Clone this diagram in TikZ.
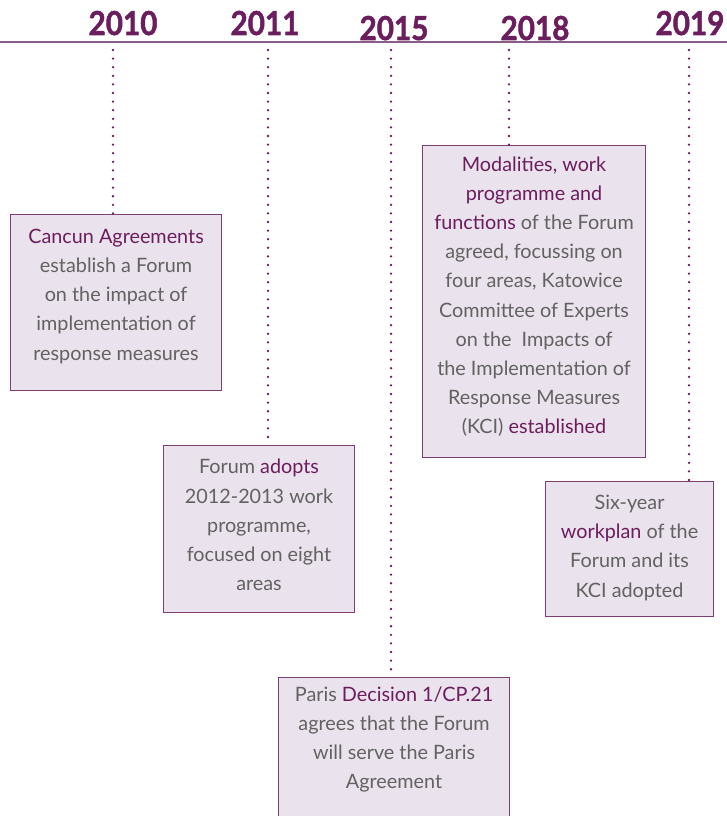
\documentclass[tikz,border=0pt]{standalone}
\usepackage{fontspec}
\setmainfont{Lato}
\newfontfamily\yearfont[BoldFeatures={FakeBold=1.6}]{Lato}
\usepackage{tikz}
\definecolor{tlpurple}{RGB}{107,30,94}
\definecolor{tlline}{RGB}{139,92,136}
\definecolor{tlframe}{RGB}{123,62,118}
\definecolor{tlfill}{RGB}{234,226,236}
\definecolor{tlgray}{RGB}{98,98,98}
\newcommand{\hilite}[1]{\textcolor{tlpurple}{#1}}
\usetikzlibrary{positioning,calc}

\begin{document}
\begin{tikzpicture}[x=1pt,y=-1pt,
        yearnode/.style={text=tlpurple,font=\yearfont\fontsize{33}{33}\selectfont\bfseries,inner sep=0pt,anchor=base},
        eventbox/.style={draw=tlframe,line width=1.1pt,fill=tlfill,anchor=north west,
            text=tlgray,align=center,font=\fontsize{19.8}{29.2}\selectfont,inner sep=0pt},
        dotline/.style={draw=tlpurple,line width=2.6pt,line cap=round,dash pattern=on 0pt off 8.6pt}
        ]
        \useasboundingbox (0,0) rectangle (727,816);

        % the time axis
        \draw[tlline,line width=2pt] (0,42) -- (727,42);

        % the years
        \node[yearnode] (y2010) at (123,35) {\scalebox{0.9}[1]{2010}};
        \node[yearnode] (y2011) at (265,35) {\scalebox{0.9}[1]{2011}};
        \node[yearnode] (y2015) at (394,40) {\scalebox{0.9}[1]{2015}};
        \node[yearnode] (y2018) at (535,40) {\scalebox{0.9}[1]{2018}};
        \node[yearnode] (y2019) at (690,35) {\scalebox{0.9}[1]{2019}};

        % the starts of the dotted lines
        \coordinate (t2010) at (113,50);
        \coordinate (t2011) at (268,50);
        \coordinate (t2015) at (391,50);
        \coordinate (t2018) at (509,50);
        \coordinate (t2019) at (689,50);

        % the events
        \node[eventbox,minimum width=211,minimum height=176,text depth=16pt] (b2010) at (10,214)
            {\hilite{Cancun Agreements}\\establish a Forum\\on the impact of\\implementation of\\response measures};
        \node[eventbox,minimum width=191,minimum height=167,text depth=8pt] (b2011) at (163,445)
            {Forum \hilite{adopts}\\2012-2013 work\\programme,\\focused on eight\\areas};
        \node[eventbox,minimum width=231,minimum height=142,text depth=22pt] (b2015) at (278,677)
            {Paris \hilite{Decision 1/CP.21}\\agrees that the Forum\\will serve the Paris\\Agreement};
        \node[eventbox,minimum width=223,minimum height=312,text depth=12.5pt] (b2018) at (422,145)
            {\hilite{Modalities, work}\\\hilite{programme and}\\\hilite{functions} of the Forum\\agreed, focussing on\\four areas, Katowice\\Committee of Experts\\on the \ Impacts of\\the Implementation of\\Response Measures\\(KCI) \hilite{established}};
        \node[eventbox,minimum width=168,minimum height=135,text depth=6pt] (b2019) at (545,481)
            {Six-year\\\hilite{workplan} of the\\Forum and its\\KCI adopted};

        % the dotted lines
        \draw[dotline] (t2010) -- (t2010 |- b2010.north);
        \draw[dotline] (t2011) -- (t2011 |- b2011.north);
        \draw[dotline] (t2015) -- (t2015 |- b2015.north);
        \draw[dotline] (t2018) -- (t2018 |- b2018.north);
        \draw[dotline] (t2019) -- (t2019 |- b2019.north);
\end{tikzpicture}
\end{document}
